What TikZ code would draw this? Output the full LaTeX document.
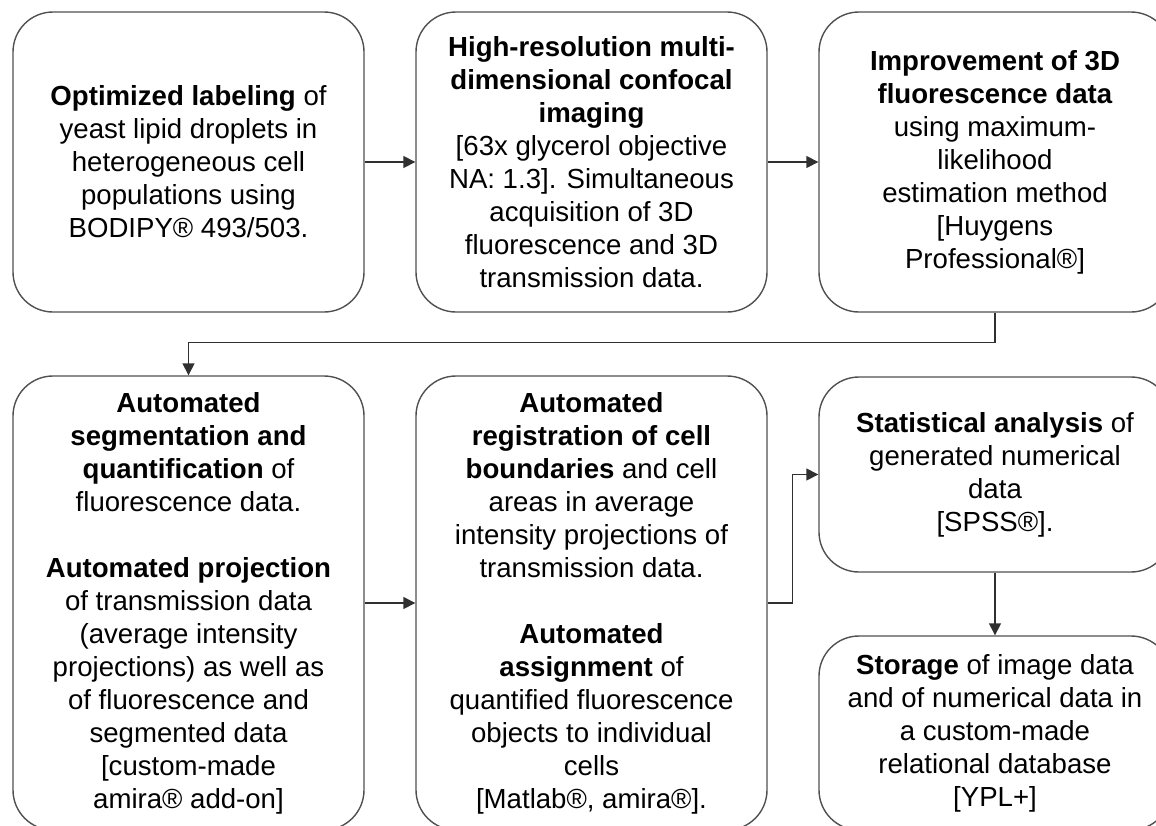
\documentclass[tikz,border=0pt]{standalone}
\usepackage{fontspec}
\setmainfont{Liberation Sans}
\usetikzlibrary{arrows.meta}
\definecolor{boxline}{HTML}{505050}
\definecolor{flowline}{HTML}{303030}

\begin{document}
\begin{tikzpicture}[x=0.5pt, y=-0.5pt,
  stage/.style={draw=boxline, line width=0.7pt, rounded corners=20pt, align=center,
    inner sep=0pt, minimum width=175.5pt, font=\fontsize{13.8}{16.5}\selectfont},
  flow/.style={draw=flowline, line width=0.75pt, -{Triangle[length=6pt,width=6pt]}}]
\useasboundingbox (0,0) rectangle (1156,825);
\clip (0,0) rectangle (1156,825);
\fill [white] (0,0) rectangle (1156,825);
\node at (188.5,162) [stage, minimum height=150pt] (labeling) {\textbf{Optimized labeling} of\\yeast lipid droplets in\\heterogeneous cell\\populations using\\BODIPY® 493/503.};
\node at (591.5,162) [stage, minimum height=150pt] (imaging) {\textbf{High-resolution multi-}\\\textbf{dimensional confocal}\\\textbf{imaging}\\{[}63x glycerol objective\\NA: 1.3]. Simultaneous\\acquisition of 3D\\fluorescence and 3D\\transmission data.};
\node at (995,162) [stage, minimum width=176pt, minimum height=150pt] (improve) {\textbf{Improvement of 3D}\\\textbf{fluorescence data}\\using maximum-\\likelihood\\estimation method\\{[}Huygens\\Professional®]};
\node at (188.5,603) [stage, minimum height=227pt] (segment) {\textbf{Automated}\\\textbf{segmentation and}\\\textbf{quantification} of\\fluorescence data.\\[16.5pt]\textbf{Automated projection}\\of transmission data\\(average intensity\\projections) as well as\\of fluorescence and\\segmented data\\{[}custom-made\\amira® add-on]};
\node at (591.5,603) [stage, minimum height=227pt] (register) {\textbf{Automated}\\\textbf{registration of cell}\\\textbf{boundaries} and cell\\areas in average\\intensity projections of\\transmission data.\\[16.5pt]\textbf{Automated}\\\textbf{assignment} of\\quantified fluorescence\\objects to individual\\cells\\{[}Matlab®, amira®].};
\node at (995,474.5) [stage, minimum width=176pt, minimum height=97.5pt] (stats) {\textbf{Statistical analysis} of\\generated numerical\\data\\{[}SPSS®].};
\node at (995,733) [stage, minimum width=176pt, minimum height=97pt] (storage) {\textbf{Storage} of image data\\and of numerical data in\\a custom-made\\relational database\\{[}YPL+]};
\draw [flow] (labeling) -- (imaging);
\draw [flow] (imaging) -- (improve);
\draw [flow] (improve.south) -- ++(0,30) -| (segment.north);
\draw [flow] (segment) -- (register);
\draw [flow] (register.east) -- ++(25,0) |- (stats.west);
\draw [flow] (stats) -- (storage);
\end{tikzpicture}
\end{document}
